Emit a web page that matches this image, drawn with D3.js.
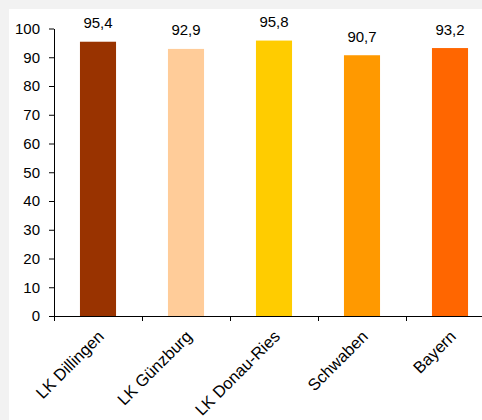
<!DOCTYPE html>
<html>
<head>
<meta charset="utf-8">
<script src="https://cdn.jsdelivr.net/npm/d3@7"></script>
<style>
  html, body { margin: 0; padding: 0; background: #f2f2f2; }
  svg { display: block; }
  text { font-family: "Liberation Sans", Arial, sans-serif; fill: #000; }
</style>
</head>
<body>
<svg id="chart" width="482" height="420"></svg>
<script>
const categories = ["LK Dillingen", "LK Günzburg", "LK Donau-Ries", "Schwaben", "Bayern"];
const values = [95.4, 92.9, 95.8, 90.7, 93.2];
const valueLabels = ["95,4", "92,9", "95,8", "90,7", "93,2"];
const colors = ["#993300", "#FFCC99", "#FFCC00", "#FF9900", "#FF6600"];
const yTicks = [0, 10, 20, 30, 40, 50, 60, 70, 80, 90, 100];

const svg = d3.select("#chart");
const W = 482, H = 420;
svg.append("rect").attr("width", W).attr("height", H).attr("fill", "#f2f2f2");
svg.append("rect").attr("x", 9).attr("y", 9).attr("width", W - 9).attr("height", H - 9).attr("fill", "#fff");

const mLeft = 54, mTop = 28.5, mBottom = 316;
const x = d3.scaleBand().domain(categories).range([mLeft, mLeft + 88 * categories.length]).padding(0);
const y = d3.scaleLinear().domain([0, 100]).range([mBottom, mTop]);
const barW = x.bandwidth() * 0.41;

// bars
svg.append("g").selectAll("rect").data(categories).join("rect")
  .attr("x", d => x(d) + (x.bandwidth() - barW) / 2)
  .attr("y", (d, i) => y(values[i]))
  .attr("width", barW)
  .attr("height", (d, i) => y(0) - y(values[i]))
  .attr("fill", (d, i) => colors[i]);

// value labels
svg.append("g").selectAll("text").data(categories).join("text")
  .attr("x", d => x(d) + x.bandwidth() / 2)
  .attr("y", (d, i) => y(values[i]) - 13.5)
  .attr("text-anchor", "middle")
  .attr("font-size", 15)
  .text((d, i) => valueLabels[i]);

// y axis
const yAxis = d3.axisLeft(y).tickValues(yTicks).tickSize(5).tickPadding(9).tickSizeOuter(0).tickFormat(d3.format("d"));
const gy = svg.append("g").attr("transform", `translate(${mLeft},0)`).call(yAxis);
gy.select(".domain").attr("stroke", "#000");
gy.selectAll(".tick line").attr("stroke", "#000");
gy.selectAll(".tick text").attr("font-size", 15).attr("font-family", "Liberation Sans, Arial, sans-serif").attr("fill", "#000");

// x axis
const gx = svg.append("g");
gx.append("line").attr("x1", mLeft).attr("x2", W).attr("y1", mBottom + 0.5).attr("y2", mBottom + 0.5).attr("stroke", "#000");
gx.selectAll("line.tk").data(categories).join("line").attr("class", "tk")
  .attr("x1", d => Math.round(x(d)) + 0.5).attr("x2", d => Math.round(x(d)) + 0.5)
  .attr("y1", mBottom).attr("y2", mBottom + 5).attr("stroke", "#000");
gx.selectAll("text").data(categories).join("text")
  .attr("transform", d => `translate(${x(d) + x.bandwidth() / 2 + 7},${mBottom + 21.5}) rotate(-45)`)
  .attr("text-anchor", "end")
  .attr("font-size", 16.5)
  .text(d => d);
</script>
</body>
</html>
